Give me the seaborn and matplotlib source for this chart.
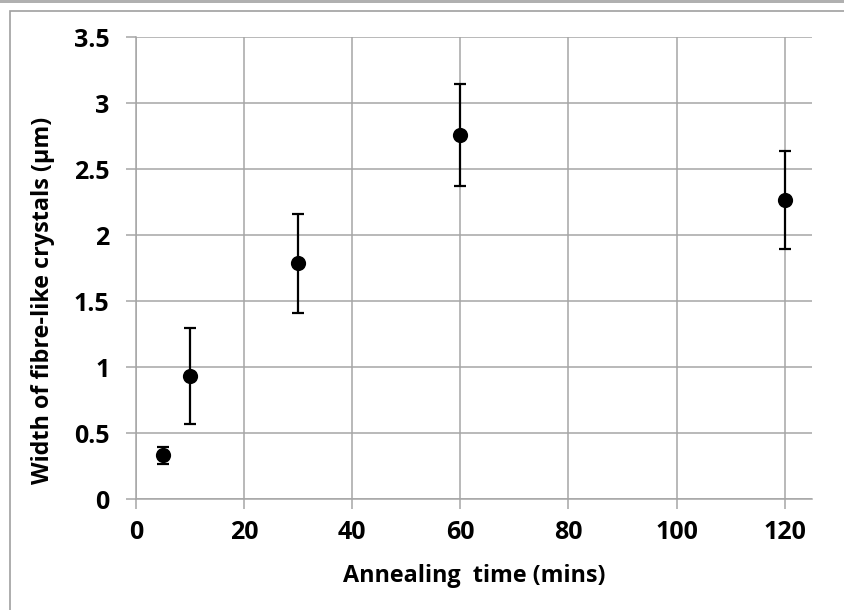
import matplotlib
matplotlib.use("Agg")
import matplotlib.pyplot as plt
import seaborn as sns
import pandas as pd
from matplotlib.patches import Rectangle

# Data
annealing_time = [5, 10, 30, 60, 120]
width_um = [0.335, 0.935, 1.79, 2.76, 2.27]
error_um = [0.065, 0.365, 0.375, 0.39, 0.37]
x_ticks = [0, 20, 40, 60, 80, 100, 120]
y_ticks = [0, 0.5, 1, 1.5, 2, 2.5, 3, 3.5]
y_tick_labels = ["0", "0.5", "1", "1.5", "2", "2.5", "3", "3.5"]

df = pd.DataFrame({"time": annealing_time, "width": width_um, "err": error_um})

sns.set_theme(style="white")
plt.rcParams["font.family"] = ["Open Sans", "DejaVu Sans"]
plt.rcParams["font.weight"] = "bold"

fig = plt.figure(figsize=(8.44, 6.10), dpi=100)
ax = fig.add_axes([136 / 844, 1 - 499.3 / 610, (811.7 - 136) / 844, (499.3 - 37.3) / 610])

grid_c = "#a6a6a6"
ax.errorbar(df["time"], df["width"], yerr=df["err"], fmt="none", ecolor="black",
            elinewidth=1.6, capsize=4.5, capthick=1.6, zorder=3)
sns.scatterplot(data=df, x="time", y="width", ax=ax, color="black", s=120,
                edgecolor="black", linewidth=0, zorder=4, legend=False)

ax.set_xlim(0, 125)
ax.set_ylim(0, 3.5)
ax.set_xticks(x_ticks)
ax.set_yticks(y_ticks)
ax.set_yticklabels(y_tick_labels)
ax.grid(True, color=grid_c, linewidth=1.1)
ax.set_axisbelow(True)
for s in ["top", "right"]:
    ax.spines[s].set_visible(False)
for s in ["left", "bottom"]:
    ax.spines[s].set_color(grid_c)
    ax.spines[s].set_linewidth(1.1)
ax.tick_params(axis="both", which="major", direction="out", length=7, width=1.1,
               color=grid_c, labelsize=18, labelcolor="black",
               bottom=True, left=True)
ax.tick_params(axis="y", pad=12)
ax.tick_params(axis="x", pad=8)
for lbl in ax.get_xticklabels() + ax.get_yticklabels():
    lbl.set_fontweight("bold")

ax.set_xlabel("Annealing  time (mins)", fontsize=16.8, fontweight="bold", color="black")
ax.set_ylabel("Width of fibre-like crystals (µm)", fontsize=16.8, fontweight="bold", color="black")
ax.xaxis.set_label_coords(0.5, -0.14)
ax.yaxis.set_label_coords(-0.12, 0.431)

# Outer chart frame (cropped)
fig.patches.append(Rectangle((10 / 844, -0.1), 1.2, 1 - 11 / 610 + 0.1,
                             transform=fig.transFigure, fill=False,
                             edgecolor="#a0a0a0", linewidth=1.2, zorder=0))
fig.patches.append(Rectangle((0, 1 - 3 / 610), 1, 3 / 610, transform=fig.transFigure,
                             facecolor="#b0b0b0", edgecolor="none", zorder=0))

fig.savefig("out.png", dpi=100)
